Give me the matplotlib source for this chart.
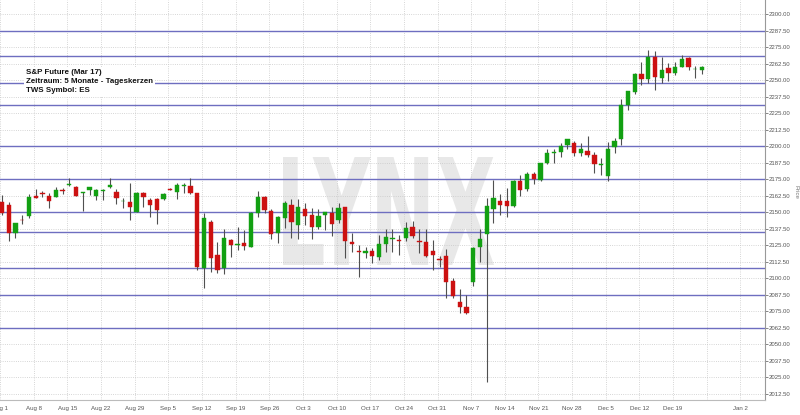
#S&P Future (Mar 17) Tageskerzen Aug - Dez 2016, Chart mit Linien
import numpy as np
import matplotlib.pyplot as plt
from matplotlib.textpath import TextPath
from matplotlib.patches import PathPatch
from matplotlib.font_manager import FontProperties
from matplotlib.transforms import Affine2D

#-------------- Daten (ein Eintrag pro Handelstag, ab 01.08.2016) --------------
opens  = [2158, 2155.5, 2134, 2144.25, 2147.25, 2162.5, 2164, 2162.25, 2161.75, 2166.5,
          2170.5, 2169.25, 2164.5, 2166.75, 2162.25, 2166, 2168.75, 2165, 2158.25, 2158,
          2150.25, 2164.75, 2159.25, 2159.75, 2160, 2167.5, 2165.5, 2169.75, 2169.75, 2164.25,
          2107.5, 2142.75, 2117.5, 2107.5, 2129, 2125.5, 2126.75, 2123.75, 2149, 2161.75,
          2150.75, 2134, 2145.25, 2155.5, 2140.25, 2152, 2147.75, 2138.5, 2147.75, 2149,
          2144, 2153.5, 2127.5, 2120.75, 2118.75, 2120.5, 2115.75, 2125.5, 2130, 2128.5,
          2130.25, 2138.5, 2127.75, 2127.5, 2120.75, 2114, 2116.75, 2098, 2082.25, 2078.5,
          2097.25, 2123.75, 2133.25, 2152, 2158.5, 2158.5, 2154.75, 2173.5, 2167.5, 2178.75,
          2174.25, 2187.5, 2195, 2195.25, 2200.75, 2202, 2194.5, 2196.5, 2193.25, 2186,
          2177.25, 2199.5, 2205, 2231, 2241.25, 2254.5, 2250.5, 2267.25, 2251.25, 2259,
          2255.5, 2260, 2266.5, 2258.25, 2257.5]
highs  = [2163, 2157.5, 2142, 2148, 2164, 2167.25, 2166.25, 2164.75, 2169.25, 2168,
          2175.5, 2169.5, 2165, 2169, 2167.25, 2167.25, 2175.5, 2167.5, 2160.5, 2171.75,
          2165.5, 2165.5, 2160.5, 2160.5, 2164.5, 2168, 2171.75, 2172.25, 2175.5, 2164.5,
          2149, 2144, 2127.5, 2137, 2129.25, 2139, 2136.5, 2150.25, 2166, 2162.25,
          2152, 2146.75, 2158.5, 2159.75, 2159.75, 2156.75, 2153, 2152, 2150.25, 2154,
          2156.75, 2154, 2134, 2125, 2123.75, 2122.5, 2132.75, 2137, 2137, 2132.75,
          2142.25, 2143.25, 2137, 2137, 2129, 2116.75, 2121.75, 2100, 2091.5, 2087.25,
          2123.75, 2137, 2160.5, 2174.25, 2163.75, 2168, 2174.25, 2178, 2180.25, 2180.5,
          2187.5, 2197.5, 2197.5, 2202.5, 2205.5, 2204, 2202.5, 2207.5, 2195.75, 2190.75,
          2203.25, 2206, 2235.5, 2242, 2255, 2264, 2272.75, 2272.25, 2267.25, 2263,
          2264, 2269, 2267.25, 2260.5, 2260.5]
lows   = [2147.5, 2128, 2130.5, 2141, 2145.25, 2160.5, 2161.25, 2153.25, 2161.25, 2163.75,
          2169.75, 2162, 2151, 2163, 2159.25, 2159.25, 2168.5, 2156, 2153.25, 2144,
          2150, 2154, 2146.5, 2140.75, 2159.5, 2166.75, 2159.75, 2164.25, 2163.75, 2106,
          2092.25, 2105, 2103.75, 2103, 2115.75, 2121.25, 2121.25, 2123.5, 2146, 2149.5,
          2129.5, 2126.5, 2137.75, 2130.5, 2129.5, 2140.25, 2129.5, 2137, 2136.5, 2132,
          2141.5, 2115.5, 2120, 2101, 2115, 2111.25, 2113.75, 2120, 2120, 2117.5,
          2128.25, 2130.25, 2118.75, 2116.25, 2106.25, 2108.75, 2084.75, 2084.75, 2073.5, 2072.75,
          2094, 2112.5, 2021.5, 2141.5, 2147.75, 2146.5, 2154, 2162.25, 2166.25, 2171,
          2173.75, 2186.5, 2187, 2192, 2197.5, 2192.5, 2192.5, 2192, 2179.75, 2178,
          2173.5, 2194.5, 2200.75, 2227.25, 2239.5, 2246.25, 2247.5, 2242.5, 2247.5, 2249.5,
          2253.75, 2259.75, 2257.5, 2251.25, 2254.5]
closes = [2149, 2134, 2142, 2143.75, 2161.75, 2161, 2163.5, 2158.5, 2166.75, 2166,
          2171.25, 2162.25, 2164.75, 2168.75, 2166.75, 2166.25, 2170.5, 2160.5, 2158.5, 2154,
          2164.75, 2161.25, 2155.5, 2151.5, 2163.75, 2167.25, 2170.5, 2170.75, 2164.25, 2108.75,
          2145.25, 2115, 2106.25, 2130.5, 2125, 2125.75, 2124.25, 2149.5, 2161.75, 2151.5,
          2133.25, 2146.5, 2156.75, 2142.75, 2154, 2147, 2138.5, 2147, 2149.75, 2140.75,
          2153, 2128.25, 2125.75, 2120.25, 2120.5, 2116.75, 2125.5, 2131.25, 2130.25, 2128,
          2137.75, 2132, 2127.5, 2117, 2117.5, 2113.5, 2097.25, 2086.5, 2078, 2073.75,
          2122.5, 2129.5, 2154.25, 2160.5, 2155.5, 2154.75, 2173.75, 2166.75, 2178.75, 2175,
          2187, 2195, 2195.25, 2200.25, 2205.25, 2195, 2197.5, 2193.25, 2186.5, 2186.5,
          2197.75, 2204, 2231, 2242, 2254.5, 2250.5, 2267.25, 2252, 2257.5, 2255,
          2259.75, 2266, 2260, 2258.5, 2259.5]

week_labels = ['Aug 1', 'Aug 8', 'Aug 15', 'Aug 22', 'Aug 29', 'Sep 5', 'Sep 12', 'Sep 19',
               'Sep 26', 'Oct 3', 'Oct 10', 'Oct 17', 'Oct 24', 'Oct 31', 'Nov 7', 'Nov 14',
               'Nov 21', 'Nov 28', 'Dec 5', 'Dec 12', 'Dec 19', '', 'Jan 2']
levels = [2287.5, 2268.0, 2247.75, 2231.25, 2200.0, 2175.0, 2150.0, 2135.0, 2107.5, 2087.5, 2062.5]
info_text = 'S&P Future (Mar 17)\nZeitraum: 5 Monate - Tageskerzen\nTWS Symbol: ES'

#-------------------------- Chart --------------------------
plt.rcParams['font.family'] = ['Liberation Sans', 'DejaVu Sans']
fig = plt.figure(figsize=(8, 4.15), dpi=100)
ax = fig.add_axes([0, 15/415, 765/800, 400/415])

O = np.array(opens); H = np.array(highs); L = np.array(lows); C = np.array(closes)
x = np.arange(len(O))
up = C >= O
col = np.where(up, '#12a012', '#cc1111')

# Wasserzeichen LYNX
tp = TextPath((0, 0), 'LYNX', size=1, prop=FontProperties(family='DejaVu Sans', weight='bold'))
bb = tp.get_extents()
x0, x1, y0, y1 = 283/765, 494/765, 1-265/400, 1-157/400
tr = Affine2D().translate(-bb.x0, -bb.y0).scale((x1-x0)/bb.width, (y1-y0)/bb.height).translate(x0, y0)
ax.add_patch(PathPatch(tp, transform=tr + ax.transAxes, fc='#e8e8e8', ec='none', zorder=0))

for lv in levels:
    ax.axhline(lv, color='#6e6ec0', lw=1.0, zorder=2)

ax.vlines(x, L, H, color='#505050', lw=0.8, zorder=3)
body = np.maximum(np.abs(C - O), 0.7)
ax.bar(x, body, bottom=np.minimum(O, C) - (body - np.abs(C - O))/2, width=0.64,
       color=col, edgecolor=col, lw=0.3, zorder=4)

ax.set_xlim(-0.15, 113.35)
ax.set_ylim(2007.7, 2310.6)

ax.set_yticks(np.arange(2012.5, 2300.1, 12.5))
ax.set_yticklabels(['%.2f' % v for v in np.arange(2012.5, 2300.1, 12.5)])
ax.yaxis.tick_right()
ax.set_xticks(np.arange(0, 5*len(week_labels), 5) - 0.3)
ax.set_xticklabels(week_labels)
ax.set_xticks([104.7], minor=True)
ax.set_xticklabels(['+'], minor=True)
ax.tick_params(axis='y', labelsize=4.3, colors='#555555', length=2, width=0.5, pad=1)
ax.tick_params(axis='x', which='major', labelsize=4.4, colors='#555555', length=0, pad=4)
ax.tick_params(axis='x', which='minor', labelsize=4, colors='#555555', length=8, width=0.6, pad=1)
ax.grid(True, linestyle=':', color='#c8c8c8', lw=0.6, zorder=1)
ax.set_axisbelow(True)

ax.yaxis.set_label_position('right')
ax.set_ylabel('Price', rotation=270, fontsize=4.4, color='#777777', va='center')
ax.yaxis.set_label_coords(1.0405, 0.52)

for s in ['top', 'left']:
    ax.spines[s].set_visible(False)
ax.spines['right'].set_color('#999999'); ax.spines['right'].set_linewidth(0.8)
ax.spines['bottom'].set_color('#bbbbbb'); ax.spines['bottom'].set_linewidth(0.8)

ax.text(26/765, 1-69/400, info_text, transform=ax.transAxes, fontsize=5.7, fontweight='bold',
        va='top', ha='left', linespacing=1.45, color='#111111', zorder=6,
        bbox=dict(fc='white', ec='none', pad=1.5))

plt.savefig('out.png', dpi=100)
plt.close('all')
